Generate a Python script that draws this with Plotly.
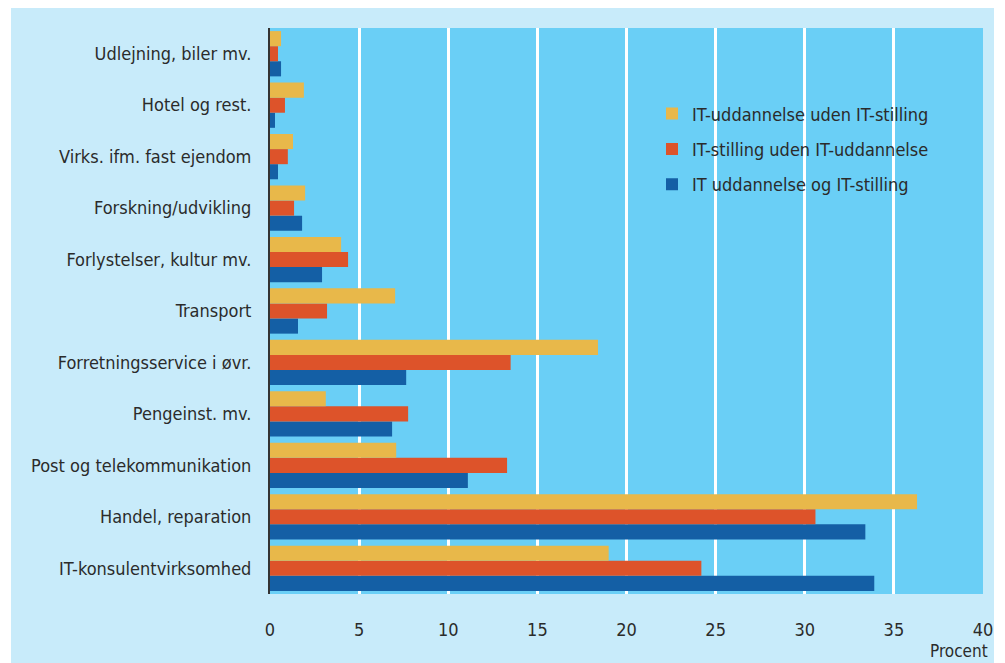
import plotly.graph_objects as go

categories = [
    "IT-konsulentvirksomhed",
    "Handel, reparation",
    "Post og telekommunikation",
    "Pengeinst. mv.",
    "Forretningsservice i øvr.",
    "Transport",
    "Forlystelser, kultur mv.",
    "Forskning/udvikling",
    "Virks. ifm. fast ejendom",
    "Hotel og rest.",
    "Udlejning, biler mv.",
]

series_names = [
    "IT uddannelse og IT-stilling",
    "IT-stilling uden IT-uddannelse",
    "IT-uddannelse uden IT-stilling",
]

blue_vals = [33.9, 33.4, 11.1, 6.85, 7.64, 1.57, 2.92, 1.8, 0.45, 0.28, 0.62]
red_vals = [24.2, 30.6, 13.3, 7.75, 13.5, 3.2, 4.38, 1.35, 1.0, 0.84, 0.45]
yellow_vals = [19.0, 36.3, 7.08, 3.13, 18.4, 7.02, 3.99, 1.97, 1.29, 1.9, 0.62]

x_ticks = [0, 5, 10, 15, 20, 25, 30, 35, 40]

colors = ["#145FA5", "#DD532A", "#E8B84A"]
values = [blue_vals, red_vals, yellow_vals]
ranks = [3, 2, 1]

FONT = "DejaVu Sans Condensed, Liberation Sans Narrow, Arial Narrow, sans-serif"
TXT = "#2b2b2b"

W, H = 1005, 663
L, T, R, B = 270, 28, 22, 69
PW, PH = W - L - R, H - T - B

fig = go.Figure()
for name, vals, col, rk in zip(series_names, values, colors, ranks):
    fig.add_trace(go.Bar(
        y=categories, x=vals, name=name, orientation="h",
        marker=dict(color=col, line=dict(width=0)),
        legendgroup=name, legendrank=rk,
    ))

fig.update_layout(
    width=W, height=H,
    margin=dict(l=L, r=R, t=T, b=B, autoexpand=False),
    paper_bgcolor="white",
    plot_bgcolor="rgba(0,0,0,0)",
    barmode="group",
    bargap=0.12,
    bargroupgap=0,
    font=dict(family=FONT, size=18, color=TXT),
    showlegend=True,
    legend=dict(
        x=(652 - L) / PW, y=0.881, xanchor="left", yanchor="top",
        bgcolor="rgba(0,0,0,0)",
        traceorder="grouped",
        tracegroupgap=9,
        font=dict(family=FONT, size=18, color=TXT),
    ),
    shapes=[
        dict(type="rect", xref="paper", yref="paper",
             x0=(11 - L) / PW, x1=(994 - L) / PW,
             y0=-0.3, y1=(PH + T - 8) / PH,
             fillcolor="#C8EBFA", line=dict(width=0), layer="below"),
        dict(type="rect", xref="paper", yref="paper",
             x0=0, x1=1, y0=0, y1=1,
             fillcolor="#6ACFF6", line=dict(width=0), layer="below"),
    ],
    annotations=[
        dict(text="Procent", xref="paper", yref="paper",
             x=(990 - L) / PW, y=-57 / PH, xanchor="right", yanchor="middle",
             showarrow=False, font=dict(family=FONT, size=17, color=TXT)),
    ],
)

fig.update_xaxes(
    range=[0, 40], tickvals=x_ticks, ticktext=[str(t) for t in x_ticks],
    showgrid=True, gridcolor="white", gridwidth=3,
    zeroline=False, showline=False, ticks="",
    ticklabelstandoff=23,
    tickfont=dict(family=FONT, size=18, color=TXT),
    fixedrange=True, automargin=False,
)
fig.update_yaxes(
    type="category", categoryorder="array", categoryarray=categories,
    showgrid=False, zeroline=False,
    showline=True, linecolor="#333333", linewidth=2,
    ticks="", ticklabelstandoff=13,
    tickfont=dict(family=FONT, size=18, color=TXT),
    fixedrange=True, automargin=False,
)

# remove the default 8px page margin so the figure sits at the window origin
fig.write_html(
    "out.html",
    config={"displayModeBar": False},
    post_script="document.body.style.margin='0';document.body.style.overflow='hidden';",
)
